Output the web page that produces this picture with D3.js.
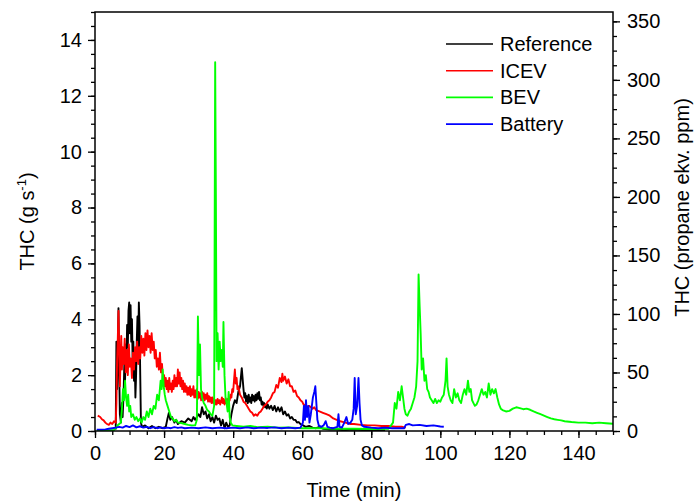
<!DOCTYPE html>
<html>
<head>
<meta charset="utf-8">
<script src="https://cdn.jsdelivr.net/npm/d3@7"></script>
<style>
  body { margin: 0; background: #fff; }
  svg { display: block; font-family: Arial, "Liberation Sans", sans-serif; }
</style>
</head>
<body>
<svg id="chart" width="694" height="502"></svg>
<script>
  // [time (min), THC (g/s)]
  const reference = [
    [6.0,0.05],[6.2,3.2],[6.4,1.5],[6.6,2.8],[6.8,4.4],[7.0,2.2],[7.2,0.6],[7.5,0.3],[7.8,1.0],[8.0,0.5],
    [8.3,1.4],[8.5,2.4],[8.7,1.8],[8.9,3.1],[9.1,2.4],[9.3,3.8],[9.5,3.0],[9.7,4.3],[9.9,4.6],[10.1,3.5],
    [10.3,4.5],[10.5,3.2],[10.7,4.0],[10.9,2.5],[11.1,3.2],[11.3,1.8],[11.5,2.6],[11.7,1.2],[11.9,2.0],[12.1,3.2],
    [12.3,4.1],[12.5,3.0],[12.7,4.6],[12.9,3.8],[13.1,2.0],[13.3,0.3],[13.6,0.15],[14.5,0.2],[15.5,0.1],[16.5,0.18],
    [17.5,0.1],[18.5,0.15],[19.5,0.1],[20.5,0.15],[21.0,0.45],[21.4,0.65],[21.8,0.4],[22.3,0.5],[23,0.3],[23.5,0.4],
    [24,0.25],[25,0.35],[26,0.3],[27,0.45],[28,0.35],[28.5,0.5],[29,0.4],[30,0.6],[30.5,0.5],[31,0.85],
    [31.5,0.6],[32,0.7],[32.5,0.45],[33,0.6],[33.5,0.35],[34,0.5],[34.5,0.3],[35,0.55],[35.5,0.4],[36,0.45],
    [36.5,0.2],[37,0.4],[37.5,0.1],[38,0.3],[38.5,0.15],[39,0.2],[39.5,0.6],[40,0.9],[40.5,1.1],[41,1.0],
    [41.5,1.4],[42,1.6],[42.5,2.25],[42.8,1.8],[43,1.5],[43.25,1.2],[43.5,1.35],[43.75,1.05],[44,1.25],[44.25,1.0],
    [44.5,1.3],[44.75,1.05],[45,1.2],[45.25,1.0],[45.5,1.3],[45.75,1.1],[46,1.25],[46.25,1.05],[46.5,1.3],[46.75,1.1],
    [47,1.35],[47.25,1.15],[47.5,1.4],[47.75,1.1],[48,1.2],[48.25,0.95],[48.5,1.05],[48.75,0.9],[49,1.0],[49.25,0.85],
    [49.5,0.95],[49.75,0.8],[50,0.95],[50.5,0.8],[51,0.9],[51.5,0.75],[52,0.9],[52.5,0.7],[53,0.85],[53.5,0.7],
    [54,0.85],[54.5,0.6],[55,0.7],[55.5,0.55],[56,0.6],[56.5,0.45],[57,0.5],[57.5,0.4],[58,0.4],[58.5,0.3],
    [59,0.32],[59.5,0.25],[60,0.22],[61,0.15],[62,0.18],[63,0.12],[64,0.1],[65,0.15],[66,0.08],[68,0.05],
    [70,0.05],[72,0.03],[75,0.05],[78,0.03],[81,0.03],[84,0.02]
  ];

  const icev = [
    [0.8,0.55],[1.5,0.5],[2,0.42],[2.5,0.38],[3,0.3],[3.5,0.25],[4,0.22],[4.5,0.3],[5,0.25],[5.5,0.35],
    [6,0.3],[6.2,1.0],[6.4,2.5],[6.6,3.3],[6.8,4.3],[7.0,2.8],[7.2,1.6],[7.4,2.6],[7.6,3.4],[7.8,2.2],
    [8,3.0],[8.3,2.4],[8.6,3.3],[8.9,2.1],[9.2,2.9],[9.5,2.0],[9.8,3.1],[10.1,2.3],[10.4,2.6],[10.7,1.9],
    [11,2.8],[11.3,2.2],[11.6,3.0],[11.9,2.5],[12.2,3.2],[12.5,2.4],[12.8,3.0],[13.1,2.6],[13.4,3.4],[13.7,2.8],
    [14,3.3],[14.3,2.7],[14.6,3.5],[14.9,2.9],[15.2,3.6],[15.5,3.0],[15.8,3.4],[16.1,2.8],[16.4,3.5],[16.7,2.9],
    [17,3.2],[17.3,2.6],[17.6,2.9],[17.9,2.3],[18.2,2.6],[18.5,2.2],[18.8,2.8],[19.1,2.1],[19.4,2.4],[19.7,1.8],
    [20,2.0],[20.25,1.6],[20.5,1.9],[20.75,1.5],[21,1.8],[21.25,1.4],[21.5,1.9],[21.75,1.5],[22,1.7],[22.25,1.4],
    [22.5,1.8],[22.75,1.5],[23,2.0],[23.25,1.6],[23.5,1.9],[23.75,1.6],[24,2.2],[24.25,1.7],[24.5,2.1],[24.75,1.6],
    [25,1.9],[25.25,1.5],[25.5,1.8],[25.75,1.4],[26,1.7],[26.25,1.4],[26.5,1.6],[26.75,1.3],[27,1.55],[27.25,1.3],
    [27.5,1.6],[27.75,1.25],[28,1.5],[28.25,1.3],[28.5,1.6],[28.75,1.2],[29,1.45],[29.25,1.2],[29.5,1.5],[29.75,1.15],
    [30,1.4],[30.25,1.2],[30.5,1.35],[30.75,1.1],[31,1.4],[31.25,1.15],[31.5,1.35],[31.75,1.1],[32,1.3],[32.25,1.15],
    [32.5,1.35],[32.75,1.05],[33,1.25],[33.25,1.05],[33.5,1.2],[33.75,1.0],[34,1.2],[34.25,1.0],[34.5,1.15],[34.75,0.95],
    [35,1.1],[35.25,0.95],[35.5,1.15],[35.75,1.0],[36,1.1],[36.25,0.95],[36.5,1.05],[36.75,1.2],[37,1.0],[37.25,1.15],
    [37.5,0.95],[37.75,1.1],[38,1.0],[38.25,1.15],[38.5,0.95],[38.75,1.05],[39,1.1],[39.25,1.3],[39.5,1.2],[39.75,1.5],
    [40,1.4],[40.25,1.8],[40.5,2.2],[40.75,1.7],[41,1.9],[41.25,1.5],[41.5,1.6],[42,1.3],[42.5,1.2],[43,1.05],
    [43.5,1.0],[44,0.9],[44.5,0.8],[45,0.7],[45.5,0.65],[46,0.55],[46.5,0.6],[47,0.55],[47.5,0.65],[48,0.7],
    [48.5,0.8],[49,0.9],[49.5,0.95],[50,1.05],[50.5,1.1],[51,1.2],[51.5,1.35],[52,1.4],[52.5,1.65],[53,1.55],
    [53.5,1.9],[54,1.75],[54.25,2.05],[54.5,1.8],[55,1.95],[55.5,1.7],[56,1.85],[56.5,1.6],[57,1.6],[57.5,1.4],
    [58,1.45],[58.5,1.25],[59,1.2],[59.5,1.1],[60,1.05],[60.5,0.92],[61,0.95],[61.5,0.85],[62,0.9],[63,0.8],
    [63.5,0.85],[64,0.75],[65,0.7],[66,0.65],[67,0.6],[68,0.55],[69,0.45],[70,0.4],[71,0.35],[72,0.32],
    [73,0.28],[74,0.25],[75,0.25],[77,0.22],[79,0.2],[81,0.2],[83,0.18],[85,0.18],[87,0.15],[89,0.15],
    [90,0.12]
  ];

  const bev = [
    [0.5,0.02],[2,0.02],[4,0.03],[5.5,0.03],[6,0.1],[6.5,0.2],[7,0.25],[7.5,0.3],[7.8,0.8],[8.1,1.5],
    [8.4,1.1],[8.7,1.8],[9,1.2],[9.3,0.9],[9.6,1.3],[9.9,0.7],[10.2,0.9],[10.5,0.5],[11,0.6],[11.5,0.4],
    [12,0.5],[12.5,0.35],[13,0.45],[13.5,0.3],[14,0.5],[14.5,0.4],[15,0.7],[15.5,0.5],[16,0.8],[16.5,0.6],
    [17,0.9],[17.5,0.8],[18,1.3],[18.5,1.1],[19,1.8],[19.3,1.5],[19.6,2.2],[19.9,1.6],[20.2,1.3],[20.5,1.1],
    [21,0.9],[21.5,0.7],[22,0.5],[22.5,0.45],[23,0.35],[23.5,0.4],[24,0.3],[25,0.28],[26,0.25],[27,0.22],
    [28,0.2],[29,0.2],[29.5,0.4],[29.8,4.1],[30.1,2.0],[30.4,3.1],[30.7,1.5],[31,1.2],[31.5,1.0],[32,0.9],
    [32.5,0.75],[33,0.7],[33.5,0.6],[34,0.55],[34.5,0.9],[34.8,13.2],[35.0,8.5],[35.2,2.5],[35.5,3.5],[35.8,2.2],
    [36.1,3.2],[36.4,2.5],[36.7,2.9],[37.0,2.3],[37.2,3.9],[37.5,2.0],[37.8,1.2],[38.1,1.0],[38.4,0.7],[38.7,1.4],
    [39,0.5],[39.3,0.3],[39.8,0.2],[41,0.18],[43,0.15],[45,0.18],[47,0.14],[50,0.15],[53,0.12],[56,0.13],
    [60,0.1],[65,0.1],[70,0.08],[75,0.08],[80,0.07],[85,0.08],[86.3,0.3],[86.8,1.0],[87.3,0.8],[87.8,1.4],
    [88.3,1.1],[88.8,1.6],[89.2,1.2],[89.6,0.8],[90,0.6],[90.5,0.55],[91,0.7],[91.5,0.8],[92,1.0],[92.5,1.2],
    [93,1.6],[93.4,2.5],[93.7,5.6],[94.0,4.5],[94.3,3.5],[94.6,2.2],[95,2.6],[95.4,1.8],[95.8,2.0],[96.2,1.5],
    [96.6,1.4],[97,1.2],[97.5,1.1],[98,1.0],[98.5,1.15],[99,1.0],[99.5,1.1],[100,1.05],[100.5,1.2],[101,1.3],
    [101.5,1.8],[101.8,2.6],[102.1,1.6],[102.5,1.3],[103,1.1],[103.5,1.0],[104,1.5],[104.5,1.2],[105,1.35],[105.5,1.1],
    [106,1.0],[106.5,1.3],[107,1.5],[107.5,1.3],[108,1.8],[108.4,1.4],[108.8,1.5],[109.2,1.1],[109.6,1.0],[110,0.9],
    [110.5,0.95],[111,1.1],[111.5,1.3],[112,1.5],[112.5,1.3],[113,1.4],[113.5,1.2],[114,1.7],[114.5,1.3],[115,1.5],
    [115.5,1.35],[116,1.5],[116.5,1.2],[117,0.95],[117.5,0.8],[118,0.75],[119,0.7],[120,0.72],[121,0.8],[122,0.85],
    [123,0.82],[124,0.78],[125,0.8],[126,0.76],[127,0.7],[128,0.65],[129,0.6],[130,0.55],[131,0.5],[132,0.45],
    [133,0.42],[134,0.4],[135,0.38],[136,0.35],[138,0.32],[140,0.3],[142,0.3],[144,0.28],[146,0.3],[148,0.28],
    [150,0.26]
  ];

  const battery = [
    [0.5,0.05],[2,0.05],[3,0.06],[4,0.08],[5,0.1],[6,0.12],[7,0.15],[8,0.12],[9,0.18],[10,0.14],
    [11,0.2],[12,0.13],[13,0.17],[14,0.12],[15,0.15],[16,0.1],[17,0.14],[18,0.1],[19,0.13],[20,0.1],
    [21,0.12],[22,0.1],[23,0.14],[24,0.11],[25,0.13],[26,0.1],[28,0.12],[30,0.1],[32,0.13],[34,0.1],
    [36,0.12],[38,0.1],[40,0.12],[42,0.1],[44,0.13],[46,0.1],[48,0.12],[50,0.11],[52,0.13],[54,0.1],
    [56,0.12],[58,0.1],[59.5,0.12],[60.2,0.3],[60.5,0.9],[60.8,0.4],[61.1,1.1],[61.4,0.5],[61.8,0.9],[62.1,0.3],
    [62.5,0.6],[62.8,0.9],[63.1,1.2],[63.5,1.4],[63.8,1.6],[64.1,1.0],[64.4,0.4],[64.8,0.2],[65.5,0.15],[66.2,0.2],
    [66.8,0.35],[67.3,0.15],[68,0.12],[69,0.1],[70.2,0.15],[70.5,0.6],[70.8,0.15],[71.5,0.12],[72.2,0.3],[72.8,0.5],
    [73.3,0.25],[74,0.3],[74.5,0.4],[74.9,0.8],[75.2,1.9],[75.5,0.6],[75.9,0.9],[76.3,1.9],[76.6,1.0],[76.9,0.4],
    [77.3,0.2],[78,0.15],[80,0.12],[82,0.1],[84,0.12],[86,0.1],[88,0.1],[89.5,0.1],[90,0.22],[91,0.25],
    [92,0.2],[94,0.22],[96,0.18],[98,0.2],[100,0.16],[101,0.15]
  ];

  const seriesNames = ["Reference", "ICEV", "BEV", "Battery"];
  const seriesColors = ["#000000", "#ff0000", "#00ff00", "#0000ff"];
  const seriesData = [reference, icev, bev, battery];

  const xTicks = [0, 20, 40, 60, 80, 100, 120, 140];
  const yTicks = [0, 2, 4, 6, 8, 10, 12, 14];
  const yRightTicks = [0, 50, 100, 150, 200, 250, 300, 350];

  (function () {
    "use strict";

    const X_MAX = 150;
    const Y_MAX = 15;
    const Y_RIGHT_MAX = 358;

    const mLeft = 95, mRight = 613, mTop = 12, mBottom = 431;
    const FONT = 20;

    const svg = d3.select("#chart");

    const x = d3.scaleLinear().domain([0, X_MAX]).range([mLeft, mRight]);
    const y = d3.scaleLinear().domain([0, Y_MAX]).range([mBottom, mTop]);
    const yR = d3.scaleLinear().domain([0, Y_RIGHT_MAX]).range([mBottom, mTop]);

    // data lines, clipped to the frame
    svg.append("clipPath").attr("id", "clip")
      .append("rect")
      .attr("x", mLeft).attr("y", mTop)
      .attr("width", mRight - mLeft).attr("height", mBottom - mTop);
    const plot = svg.append("g").attr("clip-path", "url(#clip)");

    const line = d3.line().x((d) => x(d[0])).y((d) => y(d[1]));
    seriesData.forEach((data, i) => {
      plot.append("path")
        .datum(data)
        .attr("d", line)
        .attr("fill", "none")
        .attr("stroke", seriesColors[i])
        .attr("stroke-width", 1.9)
        .attr("stroke-linejoin", "round");
    });

    function styleAxis(g) {
      g.select(".domain").remove();
      g.selectAll("line").attr("stroke", "#000").attr("stroke-width", 1.3);
      g.selectAll("text")
        .attr("font-size", FONT)
        .attr("font-family", "Arial, 'Liberation Sans', sans-serif")
        .attr("fill", "#000");
    }

    // minor ticks
    svg.append("g").attr("transform", `translate(0,${mBottom})`)
      .call(d3.axisBottom(x).tickValues(d3.range(0, X_MAX + 0.01, 5)).tickSize(4).tickFormat(""))
      .call(styleAxis);
    svg.append("g").attr("transform", `translate(${mLeft},0)`)
      .call(d3.axisLeft(y).tickValues(d3.range(0, Y_MAX + 0.01, 0.5)).tickSize(4).tickFormat(""))
      .call(styleAxis);
    svg.append("g").attr("transform", `translate(${mRight},0)`)
      .call(d3.axisRight(yR).tickValues(d3.range(0, Y_RIGHT_MAX, 12.5)).tickSize(4).tickFormat(""))
      .call(styleAxis);

    // major ticks
    svg.append("g").attr("transform", `translate(0,${mBottom})`)
      .call(d3.axisBottom(x).tickValues(xTicks).tickSize(7).tickPadding(8).tickFormat(d3.format("d")))
      .call(styleAxis);
    svg.append("g").attr("transform", `translate(${mLeft},0)`)
      .call(d3.axisLeft(y).tickValues(yTicks).tickSize(7).tickPadding(6).tickFormat(d3.format("d")))
      .call(styleAxis);
    svg.append("g").attr("transform", `translate(${mRight},0)`)
      .call(d3.axisRight(yR).tickValues(yRightTicks).tickSize(7).tickPadding(7).tickFormat(d3.format("d")))
      .call(styleAxis);

    // frame
    svg.append("rect")
      .attr("x", mLeft).attr("y", mTop)
      .attr("width", mRight - mLeft).attr("height", mBottom - mTop)
      .attr("fill", "none").attr("stroke", "#000").attr("stroke-width", 1.5);

    // axis titles
    svg.append("text")
      .attr("x", (mLeft + mRight) / 2).attr("y", 497)
      .attr("text-anchor", "middle").attr("font-size", FONT)
      .text("Time (min)");

    const yTitle = svg.append("text")
      .attr("transform", `translate(34,${(mTop + mBottom) / 2}) rotate(-90)`)
      .attr("text-anchor", "middle").attr("font-size", FONT);
    yTitle.append("tspan").text("THC (g s");
    yTitle.append("tspan").attr("dy", -8).attr("font-size", 13).text("-1");
    yTitle.append("tspan").attr("dy", 8).text(")");

    svg.append("text")
      .attr("transform", `translate(689,${(mTop + mBottom) / 2 - 14}) rotate(-90)`)
      .attr("text-anchor", "middle").attr("font-size", FONT)
      .text("THC (propane ekv. ppm)");

    // legend
    const legend = svg.append("g").attr("transform", "translate(446,44)");
    seriesNames.forEach((name, i) => {
      const row = legend.append("g").attr("transform", `translate(0,${i * 26.7})`);
      row.append("line")
        .attr("x1", 0).attr("x2", 47).attr("y1", 0).attr("y2", 0)
        .attr("stroke", seriesColors[i]).attr("stroke-width", 1.6);
      row.append("text").attr("x", 54).attr("y", 7).attr("font-size", FONT).text(name);
    });
  })();
</script>
</body>
</html>
